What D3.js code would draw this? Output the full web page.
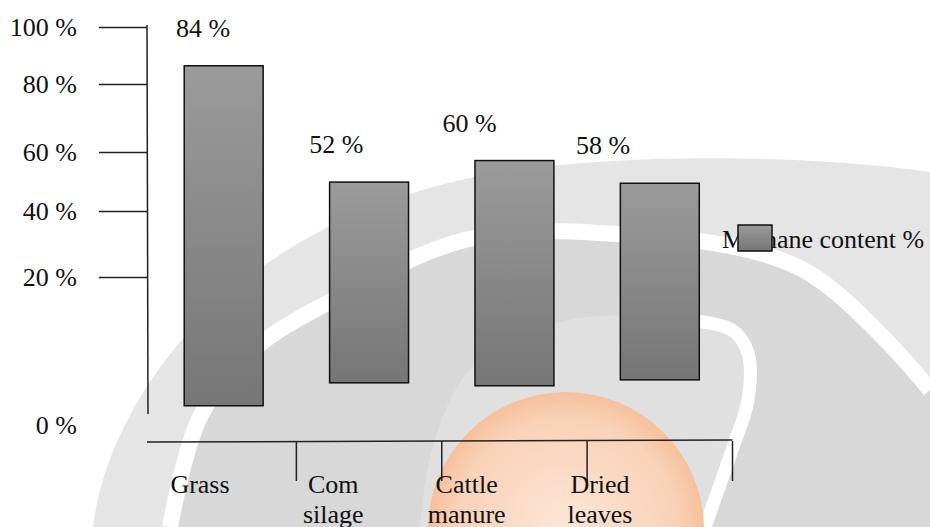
<!DOCTYPE html>
<html>
<head>
<meta charset="utf-8">
<script src="https://cdn.jsdelivr.net/npm/d3@7"></script>
<style>
  html, body { margin: 0; padding: 0; background: #fff; }
  svg, svg text { font-family: "Times New Roman", "Liberation Serif", "DejaVu Serif", serif; }
</style>
</head>
<body>
<div id="chart-container"></div>
<script>
// -------------------- Data --------------------

const categories = ["Grass", "Com silage", "Cattle manure", "Dried leaves"];
// values printed above the bars
const methaneLabels = [84, 52, 60, 58];
// where the bars actually sit on the value axis (they float)
const barTop = [86.4, 49.8, 57.1, 49.4];
const barBase = [2.6, 5.7, 5.3, 6.1];
const yTicks = [0, 20, 40, 60, 80, 100];
const seriesName = "Methane content %";

const FONT = "'Times New Roman', 'Liberation Serif', serif";


// -------------------- Funtions --------------------

// ***** WATERMARK *****:
// faint logo behind the chart (grey swoosh + orange globe)
const drawWatermark = () => {
    const wm = svg.append("g").attr("class", "watermark");
    const line = d3.line().curve(d3.curveCatmullRom);

    wm.append("path")
        .attr("d", "M93,527 C110,390 250,190 560,165 C700,152 850,160 930,172 L930,527 Z")
        .attr("fill", "#e5e5e5");

    const band = [[170, 527], [200, 417], [253, 350], [333, 300], [465, 240], [600, 233], [800, 268], [930, 390]];
    wm.append("path")
        .attr("d", line(band) + "L930,527Z")
        .attr("fill", "#d8d8d8");

    const inner = [[705, 527], [732, 450], [748, 400], [748, 353], [732, 330], [652, 317], [560, 322], [470, 370], [432, 450], [420, 527]];
    wm.append("path")
        .attr("d", line(inner) + "Z")
        .attr("fill", "#e0e0e0");

    wm.append("path")
        .attr("d", line(inner.slice(0, 6)))
        .attr("fill", "none")
        .attr("stroke", "#fff")
        .attr("stroke-width", 13);

    wm.append("path")
        .attr("d", line(band))
        .attr("fill", "none")
        .attr("stroke", "#fff")
        .attr("stroke-width", 16);

    wm.append("circle")
        .attr("cx", 566)
        .attr("cy", 530)
        .attr("r", 138)
        .attr("fill", "url(#globeGrad)");
};


// ***** AXES *****:
const drawYAxis = () => {
    const axis = svg.append("g")
        .attr("transform", `translate(${AXIS_X},0)`)
        .call(d3.axisLeft(y)
            .tickValues(yTicks)
            .tickSize(48)
            .tickPadding(22)
            .tickFormat(d => `${d} %`));

    axis.select(".domain").remove();
    axis.selectAll(".tick line").attr("stroke", "#222").attr("stroke-width", 1.5);
    axis.selectAll(".tick").filter(d => d === 0).select("line").remove();
    axis.attr("font-family", FONT).attr("font-size", 26);
    axis.selectAll("text").attr("fill", "#111");

    svg.append("line")
        .attr("x1", AXIS_X).attr("x2", AXIS_X + 1)
        .attr("y1", y(100) - 2).attr("y2", 414)
        .attr("stroke", "#222")
        .attr("stroke-width", 1.5);
};

const drawXAxis = () => {
    const ends = categories.map(c => x(c) + x.bandwidth() / 2 + x.step() / 2);
    const g = svg.append("g")
        .attr("stroke", "#222")
        .attr("stroke-width", 1.5);

    g.append("line")
        .attr("x1", AXIS_X).attr("x2", ends[ends.length - 1])
        .attr("y1", AXIS_Y + 1).attr("y2", AXIS_Y - 1);

    g.selectAll("line.tick")
        .data(ends)
        .join("line")
        .attr("class", "tick")
        .attr("x1", d => d).attr("x2", d => d)
        .attr("y1", AXIS_Y).attr("y2", AXIS_Y + 40);

    const names = svg.append("g")
        .attr("font-family", FONT)
        .attr("font-size", 26)
        .attr("fill", "#111")
        .attr("text-anchor", "middle");

    names.selectAll("text")
        .data(categories)
        .join("text")
        .attr("x", d => labelX(d))
        .attr("y", 493)
        .selectAll("tspan")
        .data(d => d.split(" ").map(w => ({ w, c: d })))
        .join("tspan")
        .attr("x", d => labelX(d.c))
        .attr("dy", (d, i) => i === 0 ? 0 : 30)
        .text(d => d.w);
};


// ***** BARS *****:
const drawBars = () => {
    svg.append("g")
        .attr("stroke", "#111")
        .attr("stroke-width", 1.5)
        .selectAll("rect")
        .data(categories)
        .join("rect")
        .attr("x", d => x(d))
        .attr("width", x.bandwidth())
        .attr("y", (d, i) => y(barTop[i]))
        .attr("height", (d, i) => y(barBase[i]) - y(barTop[i]))
        .attr("fill", "url(#barGrad)");

    svg.append("g")
        .attr("font-family", FONT)
        .attr("font-size", 26)
        .attr("fill", "#111")
        .attr("text-anchor", "middle")
        .selectAll("text")
        .data(categories)
        .join("text")
        .attr("x", d => labelX(d) + 3)
        .attr("y", (d, i) => y(barTop[i]) - 29)
        .text((d, i) => `${methaneLabels[i]} %`);
};


// ***** LEGEND *****:
const drawLegend = () => {
    const g = svg.append("g").attr("transform", "translate(722,248)");
    g.append("text")
        .attr("font-family", FONT)
        .attr("font-size", 26)
        .attr("fill", "#111")
        .text(seriesName);
    g.append("rect")
        .attr("x", 16).attr("y", -23)
        .attr("width", 34).attr("height", 26)
        .attr("fill", "url(#barGrad)")
        .attr("stroke", "#111")
        .attr("stroke-width", 1.5);
};


// -------------------- Main --------------------

const WIDTH = 930;
const HEIGHT = 527;
const AXIS_X = 147;
const AXIS_Y = 441;

const svg = d3.select("#chart-container")
    .append("svg")
    .attr("width", WIDTH)
    .attr("height", HEIGHT)
    .attr("viewBox", [0, 0, WIDTH, HEIGHT]);

const defs = svg.append("defs");
const barGrad = defs.append("linearGradient")
    .attr("id", "barGrad")
    .attr("x1", 0).attr("y1", 0).attr("x2", 0).attr("y2", 1);
barGrad.append("stop").attr("offset", 0).attr("stop-color", "#9b9b9b");
barGrad.append("stop").attr("offset", 1).attr("stop-color", "#767676");

const globeGrad = defs.append("radialGradient").attr("id", "globeGrad");
globeGrad.append("stop").attr("offset", 0).attr("stop-color", "#fce6d8");
globeGrad.append("stop").attr("offset", 0.8).attr("stop-color", "#f9d2b8");
globeGrad.append("stop").attr("offset", 1).attr("stop-color", "#f6c09c");

// value axis: the tick marks in the picture are not evenly spaced
const y = d3.scaleLinear()
    .domain(yTicks)
    .range([425, 277, 211, 152, 84, 27]);

const x = d3.scaleBand()
    .domain(categories)
    .range([AXIS_X, 736.5])
    .paddingInner(0.457)
    .paddingOuter(0.256);

// labels are drawn on a slightly tighter spacing than the bars
const labelX = d3.scalePoint()
    .domain(categories)
    .range([200, 600]);

drawWatermark();
drawYAxis();
drawXAxis();
drawBars();
drawLegend();
</script>
</body>
</html>
